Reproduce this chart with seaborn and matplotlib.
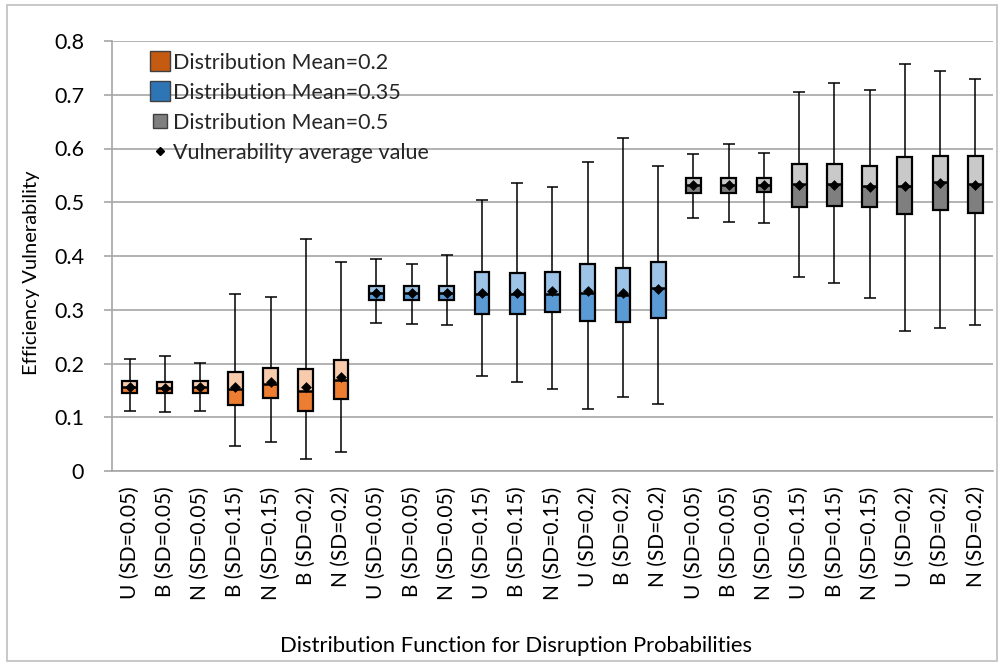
import numpy as np
import matplotlib
matplotlib.use("Agg")
import matplotlib.pyplot as plt
from matplotlib.lines import Line2D
from matplotlib.patches import Rectangle
import seaborn as sns

# ---------------- data ----------------
labels = ["U (SD=0.05)", "B (SD=0.05)", "N (SD=0.05)", "B (SD=0.15)", "N (SD=0.15)",
          "B (SD=0.2)", "N (SD=0.2)",
          "U (SD=0.05)", "B (SD=0.05)", "N (SD=0.05)", "U (SD=0.15)", "B (SD=0.15)",
          "N (SD=0.15)", "U (SD=0.2)", "B (SD=0.2)", "N (SD=0.2)",
          "U (SD=0.05)", "B (SD=0.05)", "N (SD=0.05)", "U (SD=0.15)", "B (SD=0.15)",
          "N (SD=0.15)", "U (SD=0.2)", "B (SD=0.2)", "N (SD=0.2)"]
groups = ["0.2"] * 7 + ["0.35"] * 9 + ["0.5"] * 9

v_min = [0.111, 0.109, 0.112, 0.047, 0.054, 0.022, 0.035,
         0.276, 0.274, 0.271, 0.176, 0.166, 0.152, 0.115, 0.138, 0.125,
         0.471, 0.463, 0.461, 0.361, 0.349, 0.322, 0.260, 0.266, 0.271]
v_q1 = [0.146, 0.145, 0.146, 0.122, 0.135, 0.111, 0.134,
        0.318, 0.318, 0.319, 0.293, 0.292, 0.295, 0.280, 0.277, 0.284,
        0.517, 0.517, 0.519, 0.492, 0.493, 0.491, 0.478, 0.486, 0.480]
v_med = [0.157, 0.155, 0.156, 0.152, 0.162, 0.149, 0.169,
         0.332, 0.331, 0.332, 0.329, 0.329, 0.330, 0.331, 0.327, 0.340,
         0.532, 0.532, 0.532, 0.534, 0.534, 0.530, 0.531, 0.537, 0.534]
v_q3 = [0.168, 0.166, 0.167, 0.184, 0.191, 0.189, 0.206,
        0.345, 0.345, 0.345, 0.370, 0.368, 0.370, 0.386, 0.378, 0.389,
        0.545, 0.545, 0.545, 0.572, 0.571, 0.568, 0.584, 0.586, 0.586]
v_max = [0.208, 0.214, 0.201, 0.329, 0.324, 0.432, 0.388,
         0.394, 0.386, 0.402, 0.505, 0.536, 0.528, 0.574, 0.620, 0.567,
         0.590, 0.608, 0.591, 0.705, 0.721, 0.708, 0.758, 0.744, 0.729]
v_mean = [0.157, 0.155, 0.156, 0.157, 0.166, 0.157, 0.174,
          0.332, 0.332, 0.332, 0.332, 0.332, 0.334, 0.335, 0.331, 0.338,
          0.532, 0.532, 0.532, 0.532, 0.532, 0.528, 0.530, 0.535, 0.532]

legend_labels = ["Distribution Mean=0.2", "Distribution Mean=0.35",
                 "Distribution Mean=0.5", "Vulnerability average value"]

# ---------------- style ----------------
dark = {"0.2": "#ED7D31", "0.35": "#5B9BD5", "0.5": "#7F7F7F"}
light = {"0.2": "#F8CBAD", "0.35": "#9DC3E6", "0.5": "#C9C9C9"}
legend_col = {"0.2": "#C55A11", "0.35": "#2E75B6", "0.5": "#7F7F7F"}
grid_c = "#A6A6A6"

sns.set_theme(style="white")
plt.rcParams["font.family"] = ["Lato", "DejaVu Sans"]

fig = plt.figure(figsize=(10.03, 6.64), dpi=100)
ax = fig.add_axes([112 / 1003, 193 / 664, 881 / 1003, 430 / 664])

x = np.arange(len(labels))
# means via seaborn
sns.stripplot(x=x, y=v_mean, ax=ax, marker="D", color="black", size=5.5,
              jitter=False, native_scale=True, zorder=6, linewidth=0)

w = 0.42
for i in x:
    ax.vlines(i, v_min[i], v_max[i], color="black", lw=1.1, zorder=2)
    ax.hlines([v_min[i], v_max[i]], i - 0.17, i + 0.17, color="black", lw=1.1, zorder=2)
ax.bar(x, np.array(v_med) - np.array(v_q1), bottom=v_q1, width=w,
       color=[dark[g] for g in groups], edgecolor="none", zorder=3)
ax.bar(x, np.array(v_q3) - np.array(v_med), bottom=v_med, width=w,
       color=[light[g] for g in groups], edgecolor="none", zorder=3)
ax.bar(x, np.array(v_q3) - np.array(v_q1), bottom=v_q1, width=w,
       fill=False, edgecolor="black", linewidth=1.6, zorder=4)
ax.hlines(v_med, x - w / 2, x + w / 2, color="black", lw=1.8, zorder=5)

ax.set_xlim(-0.5, len(labels) - 0.5)
ax.set_ylim(0, 0.8)
ax.set_yticks(np.arange(0, 0.81, 0.1))
ax.set_yticklabels(["0", "0.1", "0.2", "0.3", "0.4", "0.5", "0.6", "0.7", "0.8"])
ax.yaxis.grid(True, color=grid_c, lw=1.2)
ax.set_axisbelow(True)

ax.set_xticks(x)
ax.set_xticklabels(labels, rotation=90, fontsize=15, color="black")
ax.set_xticks(np.arange(-0.5, len(labels)), minor=True)
ax.tick_params(axis="x", which="major", length=0, pad=11)
ax.tick_params(axis="x", which="minor", length=7, width=1.2, color=grid_c, direction="out")
ax.tick_params(axis="y", length=6, width=1.2, color=grid_c, direction="out",
               labelsize=15.5, labelcolor="black", pad=14)
ax.tick_params(axis="both", bottom=True, left=True)

for s in ["top", "right"]:
    ax.spines[s].set_visible(False)
for s in ["left", "bottom"]:
    ax.spines[s].set_color(grid_c)
    ax.spines[s].set_linewidth(1.2)

ax.set_ylabel("Efficiency Vulnerability", fontsize=14.5, color="black")
ax.yaxis.set_label_coords(-0.082, 0.46)
fig.text(516 / 1003, 1 - 646 / 664, "Distribution Function for Disruption Probabilities",
         ha="center", va="center", fontsize=15.8, color="black")

handles = [
    Line2D([], [], marker="s", ls="none", markersize=15, markerfacecolor=legend_col["0.2"],
           markeredgecolor="#404040", markeredgewidth=1),
    Line2D([], [], marker="s", ls="none", markersize=15, markerfacecolor=legend_col["0.35"],
           markeredgecolor="#404040", markeredgewidth=1),
    Line2D([], [], marker="s", ls="none", markersize=10, markerfacecolor=legend_col["0.5"],
           markeredgecolor="#404040", markeredgewidth=1),
    Line2D([], [], marker="D", ls="none", markersize=4, markerfacecolor="black",
           markeredgecolor="black"),
]
leg = ax.legend(handles, legend_labels, loc="upper left", bbox_to_anchor=(0.025, 1.008),
                frameon=False, fontsize=15.5, handlelength=1.0, handletextpad=0.1,
                labelspacing=0.47, borderpad=0.2)
leg.set_zorder(10)

fig.patches.append(Rectangle((7 / 1003, 3 / 664), 990 / 1003, 656 / 664,
                             transform=fig.transFigure, fill=False,
                             edgecolor="#BFBFBF", lw=1.2))

fig.savefig("out.png", dpi=100)
